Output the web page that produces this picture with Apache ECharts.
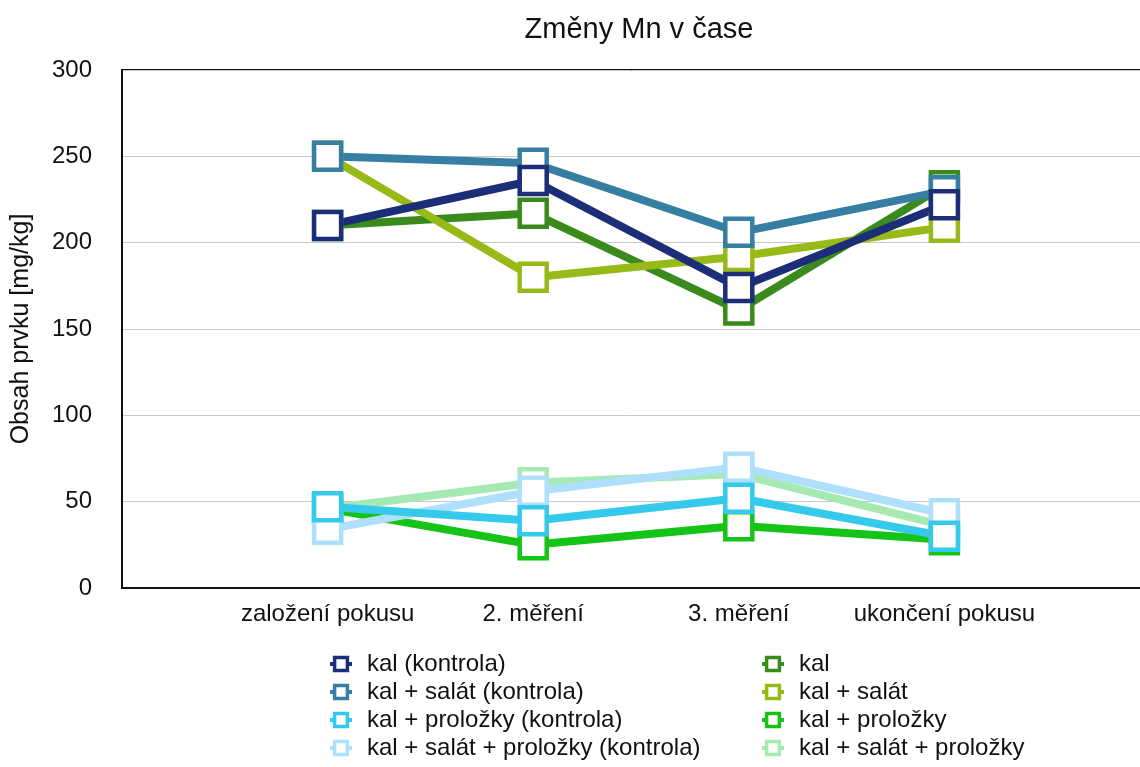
<!DOCTYPE html>
<html>
<head>
<meta charset="utf-8">
<script src="https://cdn.jsdelivr.net/npm/echarts@6/dist/echarts.min.js"></script>
<style>
  html, body { margin: 0; padding: 0; background: #fff; }
  #chart { width: 1140px; height: 767px; }
</style>
</head>
<body>
<div id="chart"></div>
<script>
// categories (first and last slot left empty, as in the original)
const categories = ['', 'založení pokusu', '2. měření', '3. měření', 'ukončení pokusu', ' '];
const yTicks = [0, 50, 100, 150, 200, 250, 300];

const kalKontrola = [210, 236, 174, 222];
const kalSalatKontrola = [250, 246, 206, 230];
const kalProlozkyKontrola = [47, 39, 52, 30];
const kalSalatProlozkyKontrola = [34, 56, 70, 43];
const kal = [210, 217, 161, 233];
const kalSalat = [250, 180, 192, 209];
const kalProlozky = [46, 25, 36, 28];
const kalSalatProlozky = [46, 61, 66, 36];

const names = [
  'kal (kontrola)', 'kal + salát (kontrola)', 'kal + proložky (kontrola)', 'kal + salát + proložky (kontrola)',
  'kal', 'kal + salát', 'kal + proložky', 'kal + salát + proložky'
];
const colors = {
  'kal (kontrola)': '#1c2e78',
  'kal + salát (kontrola)': '#377ea3',
  'kal + proložky (kontrola)': '#35c9ec',
  'kal + salát + proložky (kontrola)': '#aee0fb',
  'kal': '#3a8a1c',
  'kal + salát': '#98ba18',
  'kal + proložky': '#16c418',
  'kal + salát + proložky': '#a6e9b2'
};
const values = {
  'kal (kontrola)': kalKontrola,
  'kal + salát (kontrola)': kalSalatKontrola,
  'kal + proložky (kontrola)': kalProlozkyKontrola,
  'kal + salát + proložky (kontrola)': kalSalatProlozkyKontrola,
  'kal': kal,
  'kal + salát': kalSalat,
  'kal + proložky': kalProlozky,
  'kal + salát + proložky': kalSalatProlozky
};
// drawing order: later ones end up on top
const drawOrder = [
  'kal + salát + proložky', 'kal + proložky', 'kal', 'kal + salát',
  'kal + salát + proložky (kontrola)', 'kal + proložky (kontrola)',
  'kal + salát (kontrola)', 'kal (kontrola)'
];

const font = '"Liberation Sans", Arial, sans-serif';

function makeSeries(name) {
  return {
    name: name,
    type: 'line',
    data: values[name].map((v, i) => [i + 1, v]),
    symbol: 'rect',
    symbolSize: 27,
    showAllSymbol: true,
    lineStyle: { width: 8, color: colors[name] },
    itemStyle: { color: '#fff', borderColor: colors[name], borderWidth: 4.5 },
    emphasis: { disabled: true }
  };
}

function legendAt(left, data) {
  return {
    data: data,
    orient: 'vertical',
    left: left, top: 652,
    height: 220,
    padding: 0,
    itemWidth: 22, itemHeight: 16, itemGap: 4,
    itemStyle: { borderWidth: 3.5 },
    lineStyle: { width: 4 },
    textStyle: { fontSize: 24, color: '#111', fontFamily: font, padding: [0, 0, 0, 10] },
    selectedMode: false
  };
}

const chart = echarts.init(document.getElementById('chart'));
chart.setOption({
  animation: false,
  textStyle: { fontFamily: font },
  title: {
    text: 'Změny Mn v čase',
    left: 634,
    top: 10,
    textAlign: 'center',
    textStyle: { fontSize: 29, fontWeight: 'normal', color: '#111', fontFamily: font }
  },
  grid: {
    left: 122, top: 70, right: -10, bottom: 179,
    outerBoundsMode: 'none',
    show: true, borderColor: '#111', borderWidth: 2, backgroundColor: 'transparent'
  },
  legend: [legendAt(328, names.slice(0, 4)), legendAt(760, names.slice(4))],
  xAxis: {
    type: 'category',
    data: categories,
    boundaryGap: false,
    axisLine: { lineStyle: { color: '#111', width: 2 } },
    axisTick: { show: false },
    axisLabel: { fontSize: 24, color: '#111', margin: 14, interval: 0 },
    splitLine: { show: false }
  },
  yAxis: {
    type: 'value',
    min: yTicks[0],
    max: yTicks[yTicks.length - 1],
    interval: 50,
    name: 'Obsah prvku [mg/kg]',
    nameLocation: 'middle',
    nameGap: 88,
    nameTextStyle: { fontSize: 25, color: '#111' },
    axisLine: { show: true, lineStyle: { color: '#111', width: 2 } },
    axisTick: { show: false },
    axisLabel: { fontSize: 24, color: '#111', margin: 30 },
    splitLine: { lineStyle: { color: '#c8c8c8', width: 1 } }
  },
  series: drawOrder.map(makeSeries)
});
</script>
</body>
</html>
